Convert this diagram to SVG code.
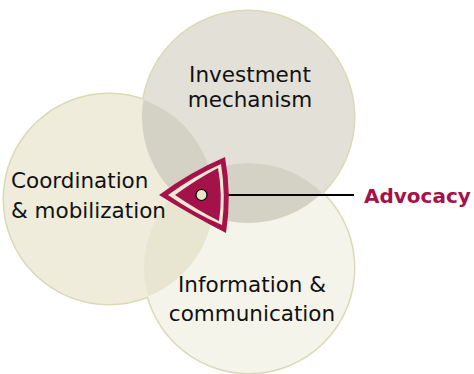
<svg xmlns="http://www.w3.org/2000/svg" width="474" height="374" viewBox="0 0 474 374">
<style>
.ring{fill:none;stroke:#dcd9b6;stroke-width:3}
.lbl{font-family:"DejaVu Sans",sans-serif;font-size:21.5px;fill:#111}
.adv{font-family:"DejaVu Sans",sans-serif;font-size:20px;font-weight:bold;fill:#a5124a}
</style>
<defs>
<clipPath id="cTop"><circle cx="248" cy="117" r="106"/></clipPath>
<clipPath id="cLeft"><circle cx="109" cy="199" r="105"/></clipPath>
<clipPath id="cBot"><circle cx="249" cy="268" r="105"/></clipPath>
</defs>
<rect width="474" height="374" fill="#ffffff"/>
<g id="rings">
<circle class="ring" cx="248" cy="117" r="106"/>
<circle class="ring" cx="109" cy="199" r="105"/>
<circle class="ring" cx="249" cy="268" r="105"/>
</g>
<g id="node-investment">
<circle cx="248" cy="117" r="106" fill="#e3e0d7"/>
</g>
<g id="node-coordination">
<circle cx="109" cy="199" r="105" fill="#efecdc"/>
</g>
<g id="node-information">
<circle cx="249" cy="268" r="105" fill="#f5f4ea"/>
</g>
<g id="overlaps">
<g clip-path="url(#cTop)"><circle cx="109" cy="199" r="105" fill="#d4d2c4"/></g>
<g clip-path="url(#cTop)"><circle cx="249" cy="268" r="105" fill="#d4d2c4"/></g>
<g clip-path="url(#cLeft)"><circle cx="249" cy="268" r="105" fill="#e8e6d0"/></g>
</g>
<g id="labels">
<text class="lbl" x="250" y="82" text-anchor="middle">Investment</text>
<text class="lbl" x="250" y="107" text-anchor="middle">mechanism</text>
<text class="lbl" x="11" y="188">Coordination</text>
<text class="lbl" x="11" y="218">&amp; mobilization</text>
<text class="lbl" x="252" y="292" text-anchor="middle">Information &amp;</text>
<text class="lbl" x="252" y="321" text-anchor="middle">communication</text>
</g>
<g id="connectors">
<line x1="201" y1="195" x2="354" y2="195" stroke="#000" stroke-width="2"/>
</g>
<g id="node-advocacy">
<path d="M159,195 Q190,172 225,157 Q232,195 226,233 Q191,215 159,195 Z" fill="#a5124a"/>
<path d="M168,195 Q194,176 221,164 Q226,195 222,225 Q194,213 168,195 Z" fill="#ebe9d6"/>
<path d="M175,195 Q197,179 218,168 Q223,195 219,221 Q197,210 175,195 Z" fill="#a5124a"/>
<circle cx="201.5" cy="195" r="5.5" fill="#e8e6c8" stroke="#000" stroke-width="1.2"/>
<text class="adv" x="364" y="203">Advocacy</text>
</g>
</svg>
